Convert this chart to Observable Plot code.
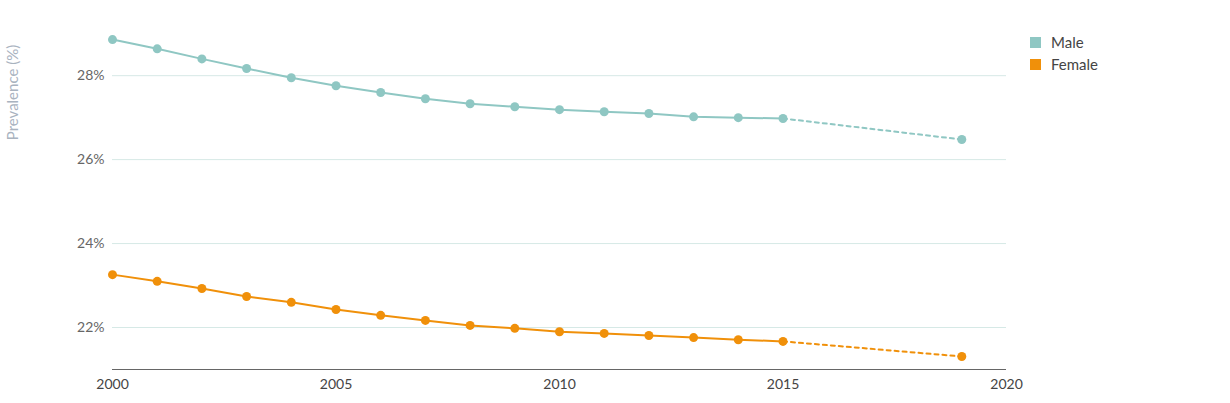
<!DOCTYPE html>
<html><head><meta charset="utf-8">
<script src="https://cdn.jsdelivr.net/npm/d3@7"></script>
<script src="https://cdn.jsdelivr.net/npm/@observablehq/plot@0.6"></script>
<style>
body{margin:0;background:#fff;font-family:Lato,"Open Sans",sans-serif}
#wrap{position:relative;width:1230px;height:403px}
#legend{position:absolute;left:1030px;top:31px;font-size:15px;color:#444}
#legend div{display:flex;align-items:center;height:22px}
#legend span{display:inline-block;width:11px;height:11px;margin-right:10px}
</style></head>
<body><div id="wrap"><div id="graph"></div>
<div id="legend"><div><span style="background:#8fc7c3"></span>Male</div><div><span style="background:#f0900a"></span>Female</div></div></div>
<script>
const years = [2000,2001,2002,2003,2004,2005,2006,2007,2008,2009,2010,2011,2012,2013,2014,2015,2019];
const male = [28.86,28.64,28.40,28.17,27.95,27.76,27.60,27.45,27.33,27.26,27.19,27.14,27.10,27.02,27.00,26.98,26.48];
const female = [23.26,23.10,22.93,22.74,22.60,22.43,22.29,22.17,22.05,21.98,21.90,21.86,21.81,21.76,21.71,21.67,21.31];
const yTicks = [22,24,26,28];
const xTicks = [2000,2005,2010,2015,2020];

const series = [
  {name: "Male", values: male, color: "#8fc7c3"},
  {name: "Female", values: female, color: "#f0900a"}
];
const data = [];
series.forEach(s => years.forEach((y, i) => data.push({year: y, value: s.values[i], name: s.name, color: s.color})));
const solid = data.filter(d => d.year <= 2015);
const dashed = data.filter(d => d.year >= 2015);

let chart = Plot.plot({
  width: 1230,
  height: 403,
  marginLeft: 112,
  marginRight: 224,
  marginTop: 29,
  marginBottom: 34,
  style: {fontFamily: "Lato, 'Open Sans', sans-serif", fontSize: "14px", color: "#555"},
  x: {domain: [2000, 2020], ticks: xTicks, tickFormat: d => String(d), tickSize: 0, label: null, tickPadding: 10},
  y: {domain: [21, 29.1], ticks: yTicks, tickFormat: d => d + "%", tickSize: 0, tickPadding: 8, label: null},
  marks: [
    Plot.gridY(yTicks, {stroke: "#d6e9e6", strokeOpacity: 1}),
    Plot.ruleY([21], {stroke: "#666"}),
    Plot.axisY({ticks: yTicks, tickFormat: d => d + "%", tickSize: 0, tickPadding: 8, label: null, fill: "#666"}),
    Plot.axisX({ticks: xTicks, tickFormat: d => String(d), tickSize: 0, tickPadding: 10, label: null, fill: "#444"}),
    Plot.line(solid, {x: "year", y: "value", z: "name", stroke: "color", strokeWidth: 2}),
    Plot.line(dashed, {x: "year", y: "value", z: "name", stroke: "color", strokeWidth: 2, strokeDasharray: "4,4"}),
    Plot.dot(data, {x: "year", y: "value", fill: "color", r: 4.5}),
    Plot.text(["Prevalence (%)"], {frameAnchor: "top-left", dx: -99, dy: 63, rotate: -90, fill: "#a9b3bf", fontSize: 15, textAnchor: "middle", lineAnchor: "middle"})
  ]
});
d3.select("#graph").append(() => chart);
</script></body></html>
